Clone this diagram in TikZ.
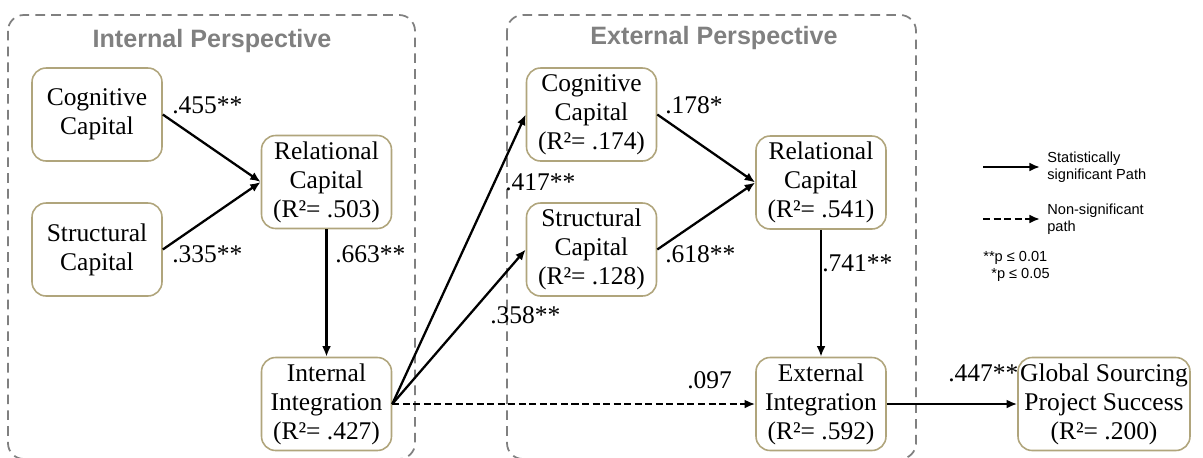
\documentclass[tikz,border=0pt]{standalone}
\usepackage{fontspec}
\setmainfont{Liberation Serif}
\setsansfont{Liberation Sans}
\usetikzlibrary{arrows.meta}
\definecolor{CapBorder}{HTML}{B0A57C}
\definecolor{PerspGray}{HTML}{808080}

\begin{document}
\begin{tikzpicture}[x=0.02cm,y=-0.02cm,
  capbox/.style={draw=CapBorder,line width=0.9pt,rounded corners=8pt,fill=white,
        minimum width=2.6cm,minimum height=1.86cm,align=center,inner sep=1pt,
        font=\fontsize{14.5}{16.5}\selectfont},
  persp/.style={draw=PerspGray,line width=1pt,dash pattern=on 5.5pt off 3.5pt,rounded corners=9pt},
  persptitle/.style={text=PerspGray,font=\sffamily\bfseries\fontsize{14.3}{16}\selectfont,anchor=base,inner sep=0pt},
  sigpath/.style={-{Latex[length=6pt,width=5pt]},line width=1.3pt},
  nonsig/.style={sigpath,dash pattern=on 4pt off 2pt},
  coef/.style={font=\fontsize{14.5}{16.5}\selectfont,anchor=base west,inner sep=0pt},
  legtext/.style={font=\sffamily\fontsize{8.3}{9.5}\selectfont,align=left,anchor=west,inner sep=0pt}]
  \useasboundingbox (0,0) rectangle (1203,457);

  % perspectives
  \draw[persp] (8,15) rectangle (415,459);
  \draw[persp] (507,15) rectangle (916,459);
  \node[persptitle] (tint) at (212,47) {Internal Perspective};
  \node[persptitle] (text) at (714,44) {External Perspective};

  % internal constructs
  \node[capbox] (icog) at (97,114.5) {Cognitive\\Capital};
  \node[capbox] (istr) at (97,249.5) {Structural\\Capital};
  \node[capbox] (irel) at (326.5,182) {Relational\\Capital\\(R²= .503)};
  \node[capbox] (iint) at (326.5,404) {Internal\\Integration\\(R²= .427)};

  % external constructs
  \node[capbox] (ecog) at (591.5,114.5) {Cognitive\\Capital\\(R²= .174)};
  \node[capbox] (estr) at (591.5,249.5) {Structural\\Capital\\(R²= .128)};
  \node[capbox] (erel) at (821,182.5) {Relational\\Capital\\(R²= .541)};
  \node[capbox] (eint) at (821,404) {External\\Integration\\(R²= .592)};

  \node[capbox,minimum width=3.44cm] (gsps) at (1104,404) {Global Sourcing\\Project Success\\(R²= .200)};

  % paths
  \draw[sigpath] (icog.east) -- (irel.west);
  \draw[sigpath] (istr.east) -- (irel.west);
  \draw[sigpath] (irel.south) -- (iint.north);
  \draw[sigpath] (iint.east) -- (ecog.west);
  \draw[sigpath] (iint.east) -- (estr.west);
  \draw[nonsig] (iint.east) -- (eint.west);
  \draw[sigpath] (ecog.east) -- (erel.west);
  \draw[sigpath] (estr.east) -- (erel.west);
  \draw[sigpath] (erel.south) -- (eint.north);
  \draw[sigpath] (eint.east) -- (gsps.west);

  % coefficients
  \node[coef] (c455) at (172,113) {.455**};
  \node[coef] (c335) at (172,262) {.335**};
  \node[coef] (c663) at (335,262) {.663**};
  \node[coef] (c417) at (505,190) {.417**};
  \node[coef] (c358) at (490,323) {.358**};
  \node[coef] (c178) at (665,113) {.178*};
  \node[coef] (c618) at (665,262) {.618**};
  \node[coef] (c741) at (822,271) {.741**};
  \node[coef] (c097) at (687,388) {.097};
  \node[coef] (c447) at (948,381) {.447**};

  % legend
  \coordinate (lsiga) at (983,167);
  \coordinate (lsigb) at (1040,167);
  \coordinate (lnsa) at (983,219);
  \coordinate (lnsb) at (1040,219);
  \draw[sigpath] (lsiga) -- (lsigb);
  \draw[nonsig] (lnsa) -- (lnsb);
  \node[legtext] (lsig) at (1047,167) {Statistically\\significant Path};
  \node[legtext] (lns) at (1047,219) {Non-significant\\path};
  \node[legtext] (lpa) at (983,258) {**p ≤ 0.01};
  \node[legtext] (lpb) at (991,275) {*p ≤ 0.05};
\end{tikzpicture}
\end{document}
